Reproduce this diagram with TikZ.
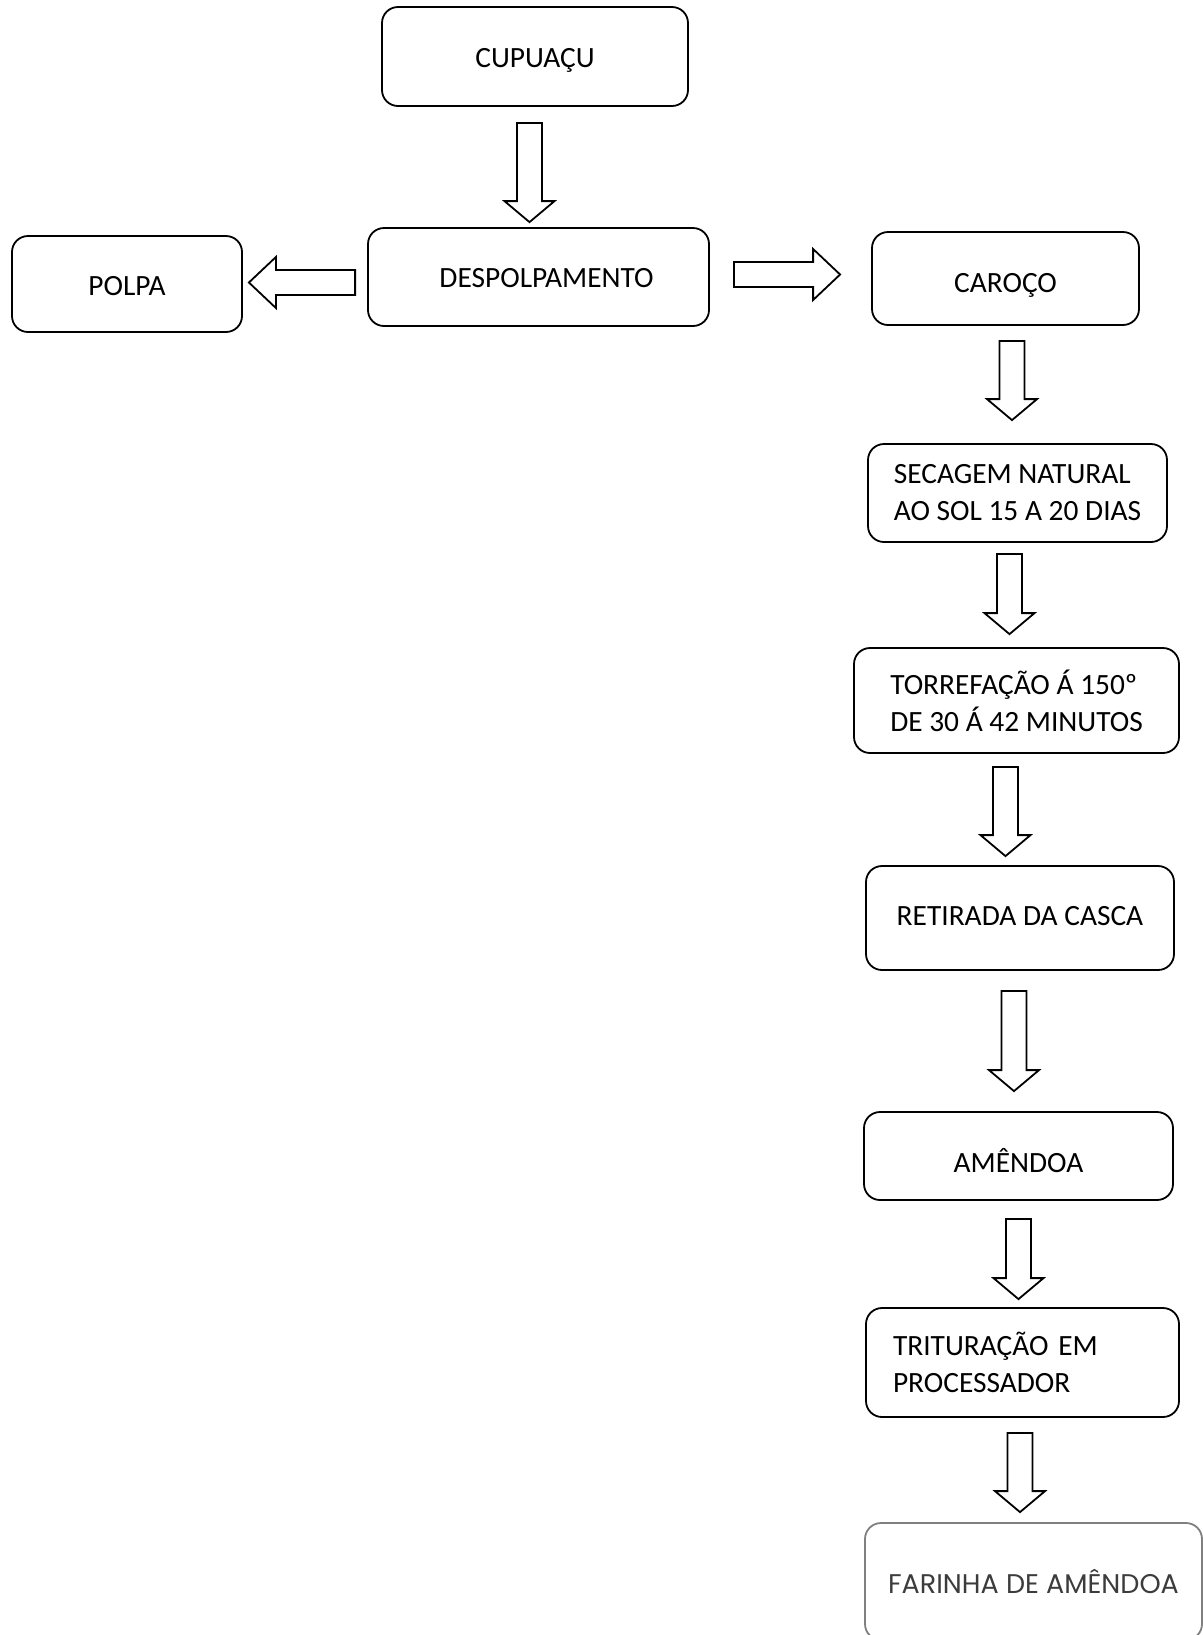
\documentclass[tikz,border=0pt]{standalone}
\usepackage{fontspec}
\setmainfont{Carlito}
\newfontfamily\gothicfont{Poppins}
\usetikzlibrary{calc}
\definecolor{softgray}{RGB}{128,128,128}
\definecolor{inkgray}{RGB}{60,60,60}
\newcommand\blockdown[2]{\draw[flowline] let \p1=(#1), \p2=(#2) in (\x1-6.25pt,\y1) -- (\x1+6.25pt,\y1) -- (\x1+6.25pt,\y2+10.5pt) -- (\x1+12.5pt,\y2+10.5pt) -- (\x1,\y2) -- (\x1-12.5pt,\y2+10.5pt) -- (\x1-6.25pt,\y2+10.5pt) -- cycle;}
\newcommand\blockside[2]{\draw[flowline] let \p1=(#1), \p2=(#2), \n1={ifthenelse(\x2>\x1,13.5,-13.5)} in (\x1,\y1+6.25pt) -- ({\x2-\n1*1pt},\y1+6.25pt) -- ({\x2-\n1*1pt},\y1+12.75pt) -- (\x2,\y1) -- ({\x2-\n1*1pt},\y1-12.75pt) -- ({\x2-\n1*1pt},\y1-6.25pt) -- (\x1,\y1-6.25pt) -- cycle;}

\begin{document}
\begin{tikzpicture}[x=0.5pt, y=-0.5pt,
	box/.style={draw, line width=0.9pt, rounded corners=8pt, inner sep=0pt, font=\fontsize{14.7}{18.5}\selectfont},
	oneline/.style={box, text height=#1, text depth=0pt},
	flowline/.style={draw, line width=0.9pt, line join=miter, fill=white}]
	\useasboundingbox (0,0) rectangle (1203,1635);
	\node[oneline=10.5pt, minimum width=153pt, minimum height=49.5pt] (cupuacu) at (535,56.5) {CUPUAÇU};
	\node[oneline=10pt, minimum width=170.5pt, minimum height=49pt] (despolp) at (538.5,277) {\hspace{8pt}DESPOLPAMENTO};
	\node[oneline=11pt, minimum width=115pt, minimum height=48pt] (polpa) at (127,284) {POLPA};
	\node[oneline=13.5pt, minimum width=133.5pt, minimum height=46.5pt] (caroco) at (1005.5,278.5) {CAROÇO};
	\node[box, minimum width=149.5pt, minimum height=49pt, align=left] (secagem) at (1017.5,493) {SECAGEM NATURAL\\AO SOL 15 A 20 DIAS};
	\node[box, minimum width=162.5pt, minimum height=52.5pt, align=left] (torref) at (1016.5,700.5) {TORREFAÇÃO Á 150º\\DE 30 Á 42 MINUTOS};
	\node[oneline=7pt, minimum width=154pt, minimum height=52pt] (retirada) at (1020,918) {RETIRADA DA CASCA};
	\node[oneline=16pt, minimum width=154.5pt, minimum height=44pt] (amendoa) at (1018.5,1156) {AMÊNDOA};
	\node[box, minimum width=156.5pt, minimum height=54.5pt, text width=129.5pt, align=left] (tritur) at (1022.5,1362.5) {TRITURAÇÃO EM\\PROCESSADOR};
	\node[box, draw=softgray, text=inkgray, minimum width=168.5pt, minimum height=58.5pt, font=\gothicfont\fontsize{13.5}{15}\selectfont] (farinha) at (1033.5,1581.5) {FARINHA DE AMÊNDOA\\[8pt]};
	\blockdown{$(cupuacu.south)+(-5.5,16)$}{$(despolp.north)+(0,-5)$}
	\blockside{$(despolp.west)+(-12,5.5)$}{$(polpa.east)+(6,0)$}
	\blockside{$(despolp.east)+(24,-2.5)$}{$(caroco.west)+(-31,0)$}
	\blockdown{$(caroco.south)+(6.5,15)$}{$(secagem.north)+(0,-23)$}
	\blockdown{$(secagem.south)+(-8,11)$}{$(torref.north)+(0,-13)$}
	\blockdown{$(torref.south)+(-11,13)$}{$(retirada.north)+(0,-9)$}
	\blockdown{$(retirada.south)+(-6,20)$}{$(amendoa.north)+(0,-20)$}
	\blockdown{$(amendoa.south)+(0,18)$}{$(tritur.north)+(0,-8)$}
	\blockdown{$(tritur.south)+(-2.5,15)$}{$(farinha.north)+(0,-10)$}
\end{tikzpicture}
\end{document}
